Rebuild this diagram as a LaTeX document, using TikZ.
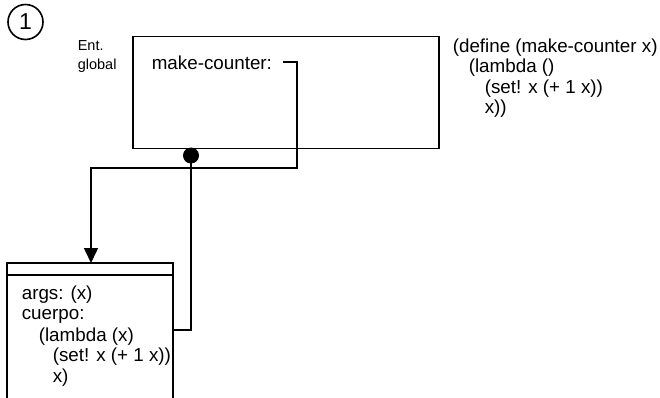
\documentclass[tikz,border=0pt]{standalone}
\usepackage{fontspec}
\setmainfont{Liberation Sans}
\usetikzlibrary{arrows.meta}
\begin{document}
\begin{tikzpicture}[x=1pt,y=-1pt,line width=1.6pt,
  txt/.style={font=\fontsize{18.8}{20.5}\selectfont,inner sep=0pt,anchor=west},
  small/.style={font=\fontsize{14.5}{19}\selectfont,inner sep=0pt,anchor=north west,align=left},
  frame/.style={draw,rectangle,inner sep=0pt},
  ptr/.style={-{Triangle[length=15pt,width=14pt]}}]
\useasboundingbox[fill=white] (0,0) rectangle (660,398);
% frame number
\node[circle,draw,minimum size=35pt,inner sep=0pt,font=\fontsize{23}{23}\selectfont] (num) at (25.5,22) {1};
\node[small] (envname) at (77,40) {Ent.\\global};
% global environment frame
\node[frame,minimum width=306pt,minimum height=112pt] (global) at (286,92.5) {};
\node[txt] (binding) at (151,63) {make-counter:};
\coordinate (ptrstart) at (283,62);
% procedure object
\node[frame,minimum width=166pt,minimum height=160pt] (proc) at (90,343) {};
\coordinate (procin) at (91,263);
\draw (proc.north west |- 0,275) -- (proc.north east |- 0,275);
\node[txt] (args) at (21,295) {args: (x)};
\node[txt] (body) at (21,316) {cuerpo:};
\node[txt] (lam) at (38,337) {(lambda (x)};
\node[txt] (setx) at (52,357) {(set! x (+ 1 x))};
\node[txt] (retx) at (52,378) {x)};
% environment pointer dot
\node[circle,fill,minimum size=16pt,inner sep=0pt] (dot) at (191,155.5) {};
% connectors
\draw[ptr] (ptrstart) -- (297,62) |- (procin |- 0,168) -- (procin);
\draw (dot.center) |- (proc.east |- 0,330);
% source code
\node[txt] (c1) at (452,48) {(define (make-counter x)};
\node[txt] (c2) at (468,68) {(lambda ()};
\node[txt] (c3) at (484,89) {(set! x (+ 1 x))};
\node[txt] (c4) at (484,109) {x))};
\end{tikzpicture}
\end{document}
